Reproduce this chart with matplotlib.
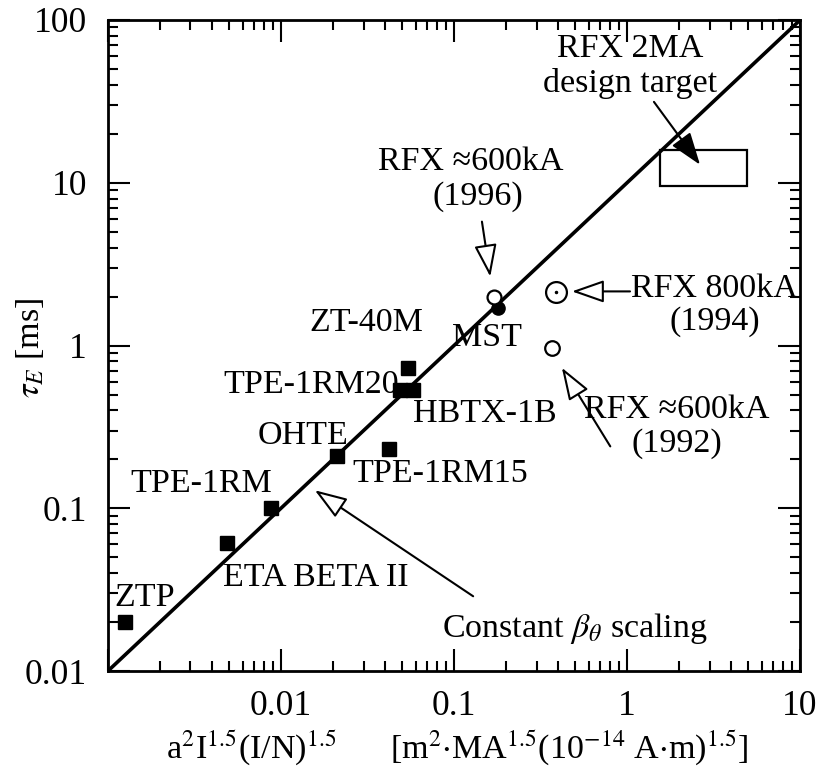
import numpy as np
import matplotlib
matplotlib.use('Agg')
import matplotlib.pyplot as plt
from matplotlib.patches import Rectangle

plt.rcParams['font.family'] = ['Liberation Serif', 'DejaVu Serif']
plt.rcParams['mathtext.fontset'] = 'stix'

# data
sq_names = ['ZTP', 'ETA BETA II', 'TPE-1RM', 'OHTE', 'TPE-1RM15',
            'TPE-1RM20', 'HBTX-1B', 'ZT-40M']
sq_x = [0.00125, 0.0049, 0.0088, 0.021, 0.042, 0.049, 0.058, 0.054]
sq_y = [0.020, 0.061, 0.10, 0.21, 0.23, 0.53, 0.53, 0.73]

mst_x = [0.18]
mst_y = [1.7]

rfx96_x = [0.17]
rfx96_y = [2.0]
rfx94_x = [0.39]
rfx94_y = [2.12]
rfx92_x = [0.37]
rfx92_y = [0.96]

# constant beta_theta scaling line
scal_x = [0.001, 10]
scal_y = [0.01, 100]

# RFX 2MA design target box
target_x = [1.55, 4.9]
target_y = [9.6, 16.0]

FS = 24.5
TFS = 25.5

fig = plt.figure(figsize=(8.3, 7.69), dpi=100)
ax = fig.add_axes([0.130, 0.1274, 0.834, 0.8466])
ax.set_xscale('log')
ax.set_yscale('log')
ax.set_xlim(0.001, 10)
ax.set_ylim(0.01, 100)

ax.plot(scal_x, scal_y, color='black', lw=2.6, zorder=2)
ax.plot(sq_x, sq_y, 's', color='black', ms=10.5, zorder=3)
ax.plot(mst_x, mst_y, 'o', color='black', ms=9.5, zorder=3)
ax.plot(rfx96_x, rfx96_y, 'o', mfc='white', mec='black', mew=1.6, ms=10, zorder=4)
ax.plot(rfx94_x, rfx94_y, 'o', mfc='white', mec='black', mew=1.6, ms=15, zorder=4)
ax.plot(rfx94_x, rfx94_y, '.', color='black', ms=3, zorder=5)
ax.plot(rfx92_x, rfx92_y, 'o', mfc='white', mec='black', mew=1.6, ms=10.5, zorder=4)

ax.add_patch(Rectangle((target_x[0], target_y[0]), target_x[1] - target_x[0],
                       target_y[1] - target_y[0], fill=False, ec='black', lw=1.6))


def fx(px):
    return (px - 108) / 692.0


def fy(py):
    return (671 - py) / 651.0


# point labels (axes fraction positions)
labels = [
    ('ZTP', 145, 598, 'center'),
    ('ETA BETA II', 316, 578, 'center'),
    ('TPE-1RM', 201, 484, 'center'),
    ('OHTE', 303, 436, 'center'),
    ('TPE-1RM15', 440, 474, 'center'),
    ('TPE-1RM20', 399, 385, 'right'),
    ('HBTX-1B', 485, 414, 'center'),
    ('ZT-40M', 366, 323, 'center'),
    ('MST', 487, 338, 'center'),
    ('RFX \u2248600kA', 471, 162, 'center'),
    ('(1996)', 478, 197, 'center'),
    ('RFX 2MA', 630, 49, 'center'),
    ('design target', 630, 84, 'center'),
    ('RFX 800kA', 714, 289, 'center'),
    ('(1994)', 715, 322, 'center'),
    ('RFX \u2248600kA', 677, 410, 'center'),
    ('(1992)', 677, 444, 'center'),
    (r'Constant $\beta_\theta$ scaling', 575, 628, 'center'),
]
for s, px, py, ha in labels:
    ax.text(fx(px), fy(py), s, transform=ax.transAxes, ha=ha, va='center',
            fontsize=FS, zorder=6)

# arrows: (tip, tail) in data coords
open_arrows = [
    ((0.162, 2.65), (0.145, 5.77)),
    ((0.48, 2.15), (1.04, 2.15)),
    ((0.42, 0.73), (0.80, 0.24)),
    ((0.0157, 0.129), (0.129, 0.0288)),
]
for tip, tail in open_arrows:
    ax.annotate('', xy=tip, xytext=tail,
                arrowprops=dict(arrowstyle='-|>,head_length=1.0,head_width=0.35',
                                mutation_scale=20, fc='white', ec='black',
                                lw=1.5, shrinkA=0, shrinkB=0), zorder=5)
ax.annotate('', xy=(2.64, 12.9), xytext=(1.43, 31.4),
            arrowprops=dict(arrowstyle='-|>,head_length=1.0,head_width=0.35',
                            mutation_scale=20, fc='black', ec='black',
                            lw=1.5, shrinkA=0, shrinkB=0), zorder=5)

ax.set_xticks([0.001, 0.01, 0.1, 1, 10])
ax.set_xticklabels(['', '0.01', '0.1', '1', '10'])
ax.set_yticks([0.01, 0.1, 1, 10, 100])
ax.set_yticklabels(['0.01', '0.1', '1', '10', '100'])
ax.tick_params(which='both', direction='in', top=True, right=True, width=1.5,
               labelsize=TFS)
ax.tick_params(which='major', length=16)
ax.tick_params(which='minor', length=7)
ax.tick_params(axis='x', which='major', pad=14)
ax.tick_params(axis='y', which='major', pad=15)
for sp in ax.spines.values():
    sp.set_linewidth(2)

ax.text(fx(251), fy(748), r'a$^2$I$^{1.5}$(I/N)$^{1.5}$', transform=ax.transAxes,
        ha='center', va='center', fontsize=FS)
ax.text(fx(569), fy(748), r'[m$^2$$\cdot$MA$^{1.5}$(10$^{-14}$ A$\cdot$m)$^{1.5}$]',
        transform=ax.transAxes, ha='center', va='center', fontsize=FS)
ax.text(fx(30), fy(348), r'$\tau_E$ [ms]', transform=ax.transAxes, rotation=90,
        ha='center', va='center', fontsize=FS)

fig.savefig('out.png', dpi=100)
